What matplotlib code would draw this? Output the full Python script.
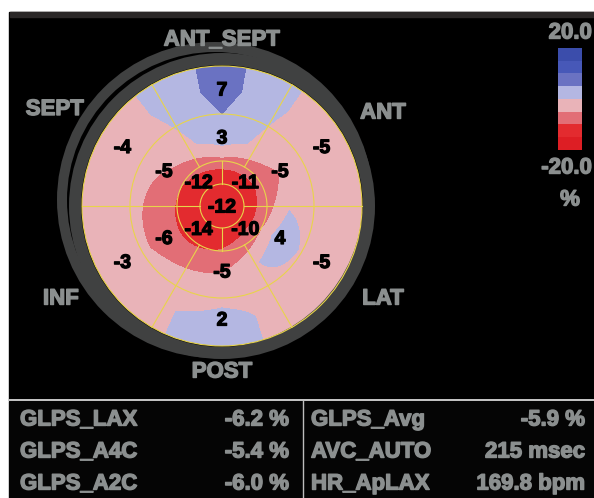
import matplotlib
matplotlib.use("Agg")
import matplotlib.pyplot as plt
import matplotlib.patheffects as pe
import numpy as np
from matplotlib.colors import ListedColormap, BoundaryNorm
from matplotlib.patches import Circle, Rectangle

# segment strain values (%), angles in degrees (0 = right, counter-clockwise)
apex_value = -12
apical_angles = [45, 135, 225, 315]
apical_values = [-11, -12, -14, -10]
ring_angles = [30, 90, 150, 210, 270, 330]
mid_values = [-5, 3, -5, -6, -5, 4]
basal_values = [-5, 7, -4, -3, 2, -5]
wall_names = ["ANT", "ANT_SEPT", "SEPT", "INF", "POST", "LAT"]

# colour scale
levels = [-20, -15, -10, -5, 0, 5, 10, 15, 20]
level_colors = ["#dd1e24", "#e32b2f", "#e26e76", "#e9b3b8",
                "#b4b7e2", "#6a72c2", "#4758b8", "#3b4dab"]

# summary table
left_names = ["GLPS_LAX", "GLPS_A4C", "GLPS_A2C"]
left_vals = ["-6.2 %", "-5.4 %", "-6.0 %"]
right_names = ["GLPS_Avg", "AVC_AUTO", "HR_ApLAX"]
right_vals = ["-5.9 %", "215 msec", "169.8 bpm"]

FONT = ["Liberation Sans Narrow", "Liberation Sans", "DejaVu Sans"]
GRAY_TXT = "#8b8f8f"
YELLOW = "#e8d44a"
CX, CY = 222, 206
R_APEX, R_APICAL, R_MID, R_OUT = 22, 45, 92, 140
ring_r = [0, 33, 67, 115]   # radius of apex / apical / mid / basal segment centres


def pol(r, a):
    t = np.deg2rad(a)
    return r * np.cos(t), r * np.sin(t)


fig = plt.figure(figsize=(5.94, 4.98), dpi=100, facecolor="white")
ax = fig.add_axes([0, 0, 1, 1])
ax.axis("off")

# screen panels
ax.add_patch(Rectangle((9, 12), 585, 388, color="black", zorder=0))
ax.add_patch(Rectangle((10, 12), 584, 5, color="#2b2828", zorder=1))
ax.add_patch(Rectangle((9, 401), 585, 97, color="#050505", zorder=0))
ax.plot([9, 594], [400, 400], color="#c8c8c8", lw=1.4, zorder=1)
ax.plot([303, 303], [401, 498], color="#bdbdbd", lw=1.0, zorder=1)

# strain map: values interpolated around each ring, then between rings
g = np.linspace(-142, 142, 569)
gx, gy = np.meshgrid(g, g[::-1])
rr = np.hypot(gx, gy)
th = np.degrees(np.arctan2(gy, gx)) % 360
ring_vals = [np.full_like(rr, apex_value),
             np.interp(th, apical_angles, apical_values, period=360),
             np.interp(th, ring_angles, mid_values, period=360),
             np.interp(th, ring_angles, basal_values, period=360)]
zf = ring_vals[-1].copy()
for k in range(len(ring_r) - 1):
    t = (rr - ring_r[k]) / (ring_r[k + 1] - ring_r[k])
    inside = (t >= 0) & (t < 1)
    zf[inside] = ((1 - t) * ring_vals[k] + t * ring_vals[k + 1])[inside]
zf = np.round(zf, 6)

cmap = ListedColormap(level_colors)
norm = BoundaryNorm(levels, cmap.N)
im = ax.imshow(zf, cmap=cmap, norm=norm, origin="upper", interpolation="nearest",
               extent=(CX - 142, CX + 142, CY + 142, CY - 142), zorder=2)
im.set_clip_path(Circle((CX, CY), R_OUT, transform=ax.transData))

# grid lines
for r in [R_APEX, R_APICAL, R_MID, R_OUT]:
    ax.add_patch(Circle((CX, CY), r, fill=False, ec=YELLOW, lw=0.8, zorder=3))
for a, r0, r1 in [(0, R_APEX, R_OUT), (180, R_APEX, R_OUT),
                  (90, R_APEX, R_APICAL), (270, R_APEX, R_APICAL),
                  (60, R_APICAL, R_OUT), (120, R_APICAL, R_OUT),
                  (240, R_APICAL, R_OUT), (300, R_APICAL, R_OUT)]:
    x0, y0 = pol(r0, a)
    x1, y1 = pol(r1, a)
    ax.plot([CX + x0, CX + x1], [CY - y0, CY - y1], color=YELLOW, lw=0.8, zorder=3)

# gray rings around the map
ax.add_patch(Circle((CX, CY), 147, fill=False, ec="#404141", lw=12 * 0.72, zorder=2))
ax.add_patch(Circle((215, 200), 153, fill=False, ec="#404141", lw=10 * 0.72, zorder=2))

# segment values
bold_black = [pe.withStroke(linewidth=0.9, foreground="black")]
seg_kw = dict(color="black", fontsize=14, fontweight="bold", family=FONT,
              ha="center", va="center", zorder=5, path_effects=bold_black)
ax.text(CX, CY + 2, str(apex_value), **seg_kw)
for a, v in zip(apical_angles, apical_values):
    x, y = pol(ring_r[1], a)
    ax.text(CX + x, CY - y + 1, str(v), **seg_kw)
for a, v in zip(ring_angles, mid_values):
    x, y = pol(ring_r[2], a)
    ax.text(CX + x, CY - y, str(v), **seg_kw)
for a, v in zip(ring_angles, basal_values):
    x, y = pol(ring_r[3], a)
    ax.text(CX + x, CY - y, str(v), **seg_kw)

# wall names
bold_gray = [pe.withStroke(linewidth=1.0, foreground=GRAY_TXT)]
txt_kw = dict(color=GRAY_TXT, fontsize=16, fontweight="bold", family=FONT,
              va="center", path_effects=bold_gray)
name_r = [186, 166, 193, 186, 166, 186]
for a, r, n in zip(ring_angles, name_r, wall_names):
    x, y = pol(r, a)
    ax.text(CX + x, CY - y, n, ha="center", zorder=6, **txt_kw)

# colour bar
mids = np.array([(a + b) / 2 for a, b in zip(levels[:-1], levels[1:])])[::-1]
ax.imshow(mids.reshape(-1, 1), cmap=cmap, norm=norm, origin="upper",
          interpolation="nearest", extent=(558, 582, 150, 48), zorder=2)
ax.text(592, 33, f"{levels[-1]:.1f}", ha="right", **txt_kw)
ax.text(592, 168, f"{levels[0]:.1f}", ha="right", **txt_kw)
ax.text(570, 200, "%", ha="center", **txt_kw)

# summary table
rows_y = [420, 452, 484]
for y, n, v in zip(rows_y, left_names, left_vals):
    ax.text(20, y, n, ha="left", **txt_kw)
    ax.text(289, y, v, ha="right", **txt_kw)
for y, n, v in zip(rows_y, right_names, right_vals):
    ax.text(311, y, n, ha="left", **txt_kw)
    ax.text(585, y, v, ha="right", **txt_kw)

ax.set_xlim(0, 594)
ax.set_ylim(498, 0)
ax.set_aspect("auto")
fig.savefig("out.png", dpi=100, facecolor="white")
